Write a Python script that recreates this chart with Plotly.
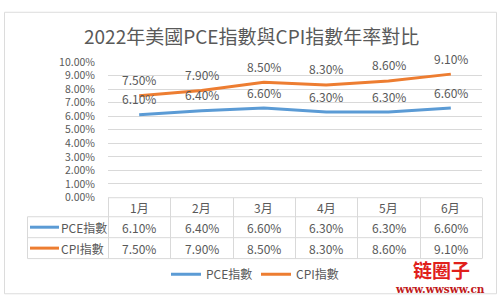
import plotly.graph_objects as go

W, H = 502, 306
months = ["1月", "2月", "3月", "4月", "5月", "6月"]
pce = [6.10, 6.40, 6.60, 6.30, 6.30, 6.60]
cpi = [7.50, 7.90, 8.50, 8.30, 8.60, 9.10]
series_names = ["PCE指數", "CPI指數"]
series_colors = ["#5B9BD5", "#ED7D31"]
y_ticks = [0, 1, 2, 3, 4, 5, 6, 7, 8, 9, 10]
title = "2022年美國PCE指數與CPI指數年率對比"

TXT = "#595959"
GRID = "#D9D9D9"
FONT = "Noto Sans CJK TC"

def px(x):
    return x / W

def py(y):
    return 1 - y / H

# plot area pixels
X0, X1 = 108, 482
Y_TOP, Y_BOT = 56.7, 199.3

fig = go.Figure()
for name, vals, col in zip(series_names, [pce, cpi], series_colors):
    fig.add_trace(go.Scatter(x=months, y=vals, mode="lines", name=name,
                             line=dict(color=col, width=3), hoverinfo="skip"))

annotations = []
shapes = []

def pann(x, y, text, size=12, color=TXT, family=FONT, xanchor="center", pad=1):
    annotations.append(dict(x=px(x), y=py(y), xref="paper", yref="paper", text=text,
                            showarrow=False, xanchor=xanchor, yanchor="middle", borderpad=pad,
                            font=dict(size=size, color=color, family=family)))

def pline(x0, y0, x1, y1, color=GRID, width=1):
    shapes.append(dict(type="line", xref="paper", yref="paper", x0=px(x0), x1=px(x1),
                       y0=py(y0), y1=py(y1), line=dict(color=color, width=width)))

# data labels
for vals in [pce, cpi]:
    for m, v in zip(months, vals):
        annotations.append(dict(x=m, y=v, xref="x", yref="y", text=f"{v:.2f}%",
                                showarrow=False, yshift=16, xanchor="center", yanchor="middle",
                                font=dict(size=12, color=TXT, family=FONT)))

# title
pann(251, 29, title, size=19)

# outer border (four lines)
BL, BR, BT, BB = 4.5, 496.5, 4.5, 300.5
pline(BL, BT, BR, BT, color="#DCDCDC")
pline(BL, BB, BR, BB, color="#DCDCDC")
pline(BL, BT, BL, BB, color="#DCDCDC")
pline(BR, BT, BR, BB, color="#DCDCDC")

# data table
col_w = (X1 - X0) / len(months)
row_y = [199.5, 219.5, 241.5, 263.5]
TL = 27.5
pline(X0, row_y[0], X1, row_y[0])
for yy in row_y[1:]:
    pline(TL, yy, X1, yy)
pline(TL, row_y[1], TL, row_y[3])
for i in range(len(months) + 1):
    xx = round(X0 + i * col_w) + 0.5
    pline(xx, row_y[0], xx, row_y[3])
for i, m in enumerate(months):
    pann(X0 + (i + 0.5) * col_w, (row_y[0] + row_y[1]) / 2, m)
for r, (name, vals, col) in enumerate(zip(series_names, [pce, cpi], series_colors)):
    yc = (row_y[r + 1] + row_y[r + 2]) / 2
    pline(30, yc, 59, yc, color=col, width=3)
    pann(59, yc, name, xanchor="left")
    for i, v in enumerate(vals):
        pann(X0 + (i + 0.5) * col_w, yc, f"{v:.2f}%")

# watermark
pann(441, 275, "<b>链圈子</b>", size=19, color="#E0201B", family="Noto Sans CJK SC", pad=0)
pann(440, 296, "<b>www.wwsww.cn</b>", size=10.5, color="#C0181A", family="DejaVu Serif", pad=0)

fig.update_layout(
    width=W, height=H, margin=dict(l=0, r=0, t=0, b=0),
    paper_bgcolor="white", plot_bgcolor="white",
    showlegend=True,
    legend=dict(orientation="h", x=px(166), y=py(280), xanchor="left", yanchor="middle",
                font=dict(size=12, color=TXT, family=FONT), entrywidth=45,
                entrywidthmode="pixels", bgcolor="rgba(0,0,0,0)"),
    xaxis=dict(domain=[px(X0), px(X1)], range=[-0.5, 5.5], showticklabels=False,
               showgrid=False, zeroline=False, showline=False, fixedrange=True),
    yaxis=dict(domain=[py(Y_BOT), py(Y_TOP)], range=[0, 10], tickvals=y_ticks,
               ticktext=[f"{v:.2f}%" for v in y_ticks], showgrid=True, gridcolor=GRID,
               gridwidth=1, zeroline=False, showline=False, ticks="",
               ticklabelstandoff=12,
               tickfont=dict(size=10.5, color=TXT, family=FONT)),
    annotations=annotations, shapes=shapes,
)

fig.write_html("out.html")
